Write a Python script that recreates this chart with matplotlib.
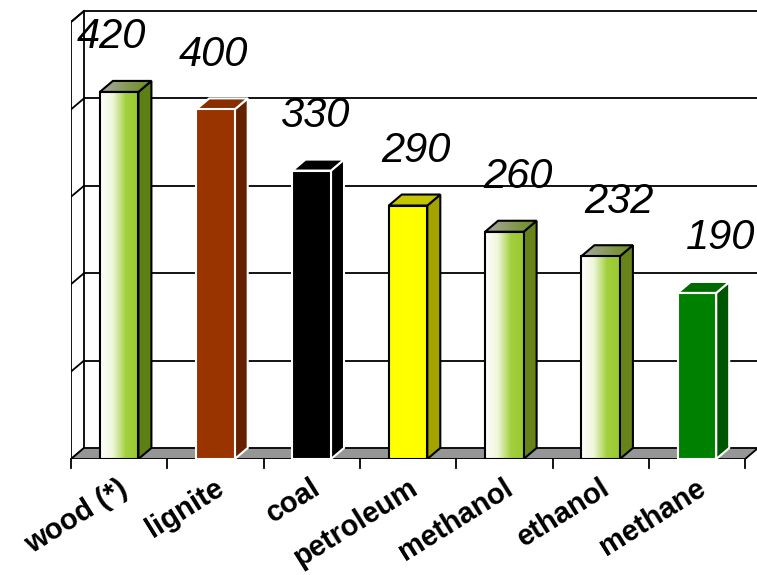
import numpy as np
import matplotlib.pyplot as plt
from matplotlib.patches import Polygon, Rectangle
from matplotlib.colors import LinearSegmentedColormap

fuels = ['wood (*)', 'lignite', 'coal', 'petroleum', 'methanol', 'ethanol', 'methane']
values = [420, 400, 330, 290, 260, 232, 190]
labels = ['420', '400', '330', '290', '260', '232', '190']

# front, side, top colours ('grad' means white -> green gradient)
fronts = ['grad', '#993300', '#000000', '#ffff00', 'grad', 'grad', '#008000']
sides = ['#5c8014', '#662200', '#000000', '#a3a300', '#66841a', '#66841a', '#005500']
tops = ['gradtop', '#8a2e00', '#000000', '#c4c400', 'gradtop', 'gradtop', '#006a00']
edges = ['black', 'white', 'white', 'black', 'black', 'black', 'white']

ymax = 500
dx, dy = 0.135, 12.6   # depth offset in data units
bw = 0.4

fig = plt.figure(figsize=(7.57, 5.75), dpi=100)
ax = fig.add_axes([71 / 757, 116 / 575, 686 / 757, 459 / 575])
ax.set_xlim(-0.5, -0.5 + 686 / 96.3)
ax.set_ylim(0, 459 / 0.874)
ax.axis('off')

x0 = -0.5
x1 = len(fuels) - 0.5
xr = ax.get_xlim()[1] + 0.5

# back wall grid
for g in range(100, ymax + 1, 100):
    ax.plot([x0 + dx, xr], [g + dy, g + dy], color='black', lw=1.3, zorder=1)
    ax.plot([x0, x0 + dx], [g, g + dy], color='black', lw=1.3, zorder=1)

# left wall
ax.add_patch(Polygon([(x0, 0), (x0 + dx, dy), (x0 + dx, ymax + dy), (x0, ymax)],
                     closed=True, facecolor='none', edgecolor='black', lw=1.3, zorder=2))

# floor
ax.add_patch(Polygon([(x0, 0), (x1, 0), (x1 + dx, dy), (x0 + dx, dy)],
                     closed=True, facecolor='#969696', edgecolor='black', lw=1.3, zorder=2))

# x ticks
for t in np.arange(x0, x1 + 0.01, 1.0):
    ax.plot([t, t], [0, -10], color='black', lw=1.3, clip_on=False, zorder=2)

grad_cmap = LinearSegmentedColormap.from_list('g', ['#ffffff', '#eef6d8', '#a2d03c', '#98c832'])
top_cmap = LinearSegmentedColormap.from_list('t', ['#a8a8a8', '#8a9a5a', '#6c8c1c'])
ramp = np.linspace(0, 1, 256).reshape(1, -1)

for i, v in enumerate(values):
    l, r = i - bw / 2, i + bw / 2
    ec = edges[i]
    # side
    side = Polygon([(r, 0), (r + dx, dy), (r + dx, v + dy), (r, v)], closed=True,
                   facecolor=sides[i], edgecolor=ec, lw=1.5, zorder=4)
    ax.add_patch(side)
    # top
    topverts = [(l, v), (r, v), (r + dx, v + dy), (l + dx, v + dy)]
    if tops[i] == 'gradtop':
        tp = Polygon(topverts, closed=True, facecolor='none', edgecolor=ec, lw=1.5, zorder=5)
        ax.add_patch(tp)
        im = ax.imshow(ramp, cmap=top_cmap, extent=(l, r + dx, v, v + dy),
                       aspect='auto', zorder=4.5, interpolation='bilinear')
        im.set_clip_path(tp)
    else:
        ax.add_patch(Polygon(topverts, closed=True, facecolor=tops[i],
                             edgecolor=ec, lw=1.5, zorder=5))
    # front
    if fronts[i] == 'grad':
        fr = Rectangle((l, 0), bw, v, facecolor='none', edgecolor=ec, lw=1.5, zorder=6)
        ax.add_patch(fr)
        im = ax.imshow(ramp, cmap=grad_cmap, extent=(l, r, 0, v),
                       aspect='auto', zorder=5.5, interpolation='bilinear')
        im.set_clip_path(fr)
    else:
        ax.add_patch(Rectangle((l, 0), bw, v, facecolor=fronts[i], edgecolor=ec,
                               lw=1.5, zorder=6))

    # value label
    ax.text(i - 0.08 + 0.055 * i, v + 50, labels[i], ha='center', va='baseline',
            fontsize=30, style='italic', family='Liberation Sans', zorder=8)
    # category label
    ax.text(i - 0.01, -17, fuels[i], rotation=32, rotation_mode='anchor',
            ha='right', va='top', fontsize=21, fontweight='bold',
            family='Liberation Sans', clip_on=False, zorder=8)

fig.savefig('out.png', dpi=100)
